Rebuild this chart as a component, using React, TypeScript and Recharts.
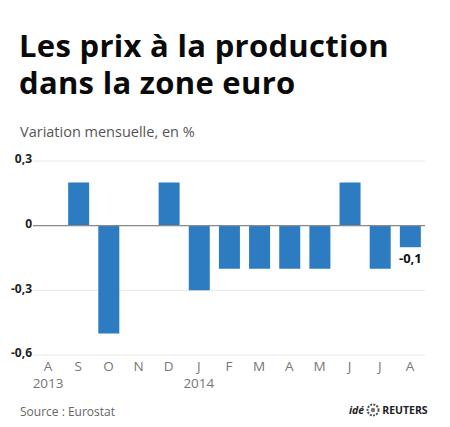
import React from "react";
import { BarChart, Bar, XAxis, YAxis, CartesianGrid, ReferenceLine, LabelList } from "recharts";

const months = ["A", "S", "O", "N", "D", "J", "F", "M", "A", "M", "J", "J", "A"];
const years = ["2013", "", "", "", "", "2014", "", "", "", "", "", "", ""];
const values = [0, 0.2, -0.5, 0, 0.2, -0.3, -0.2, -0.2, -0.2, -0.2, 0.2, -0.2, -0.1];
const labels = ["", "", "", "", "", "", "", "", "", "", "", "", "-0,1"];
const yTicks = [0.3, 0, -0.3, -0.6];

const data = months.map((m, i) => ({ id: i, mois: m, annee: years[i], valeur: values[i], etiquette: labels[i] }));

const fmt = (v: number) => String(v).replace(".", ",");

const MonthTick = (props: any) => {
  const { x, y, payload } = props;
  const row = data[payload.value];
  return (
    <g>
      <text x={x} y={y + 8} textAnchor="middle" fill="#777" fontSize={13.5} fontFamily="Open Sans">
        {row.mois}
      </text>
      {row.annee && (
        <text x={x} y={y + 25} textAnchor="middle" fill="#777" fontSize={13.5} fontFamily="Open Sans">
          {row.annee}
        </text>
      )}
    </g>
  );
};

const BottomLabel = (props: any) => {
  const { x, y, width, height, value } = props;
  if (!value) return null;
  const bottom = Math.max(Number(y), Number(y) + Number(height));
  return (
    <text x={Number(x) + Number(width) / 2} y={bottom + 16} textAnchor="middle" fill="#111" fontSize={13} fontWeight={700} fontFamily="Open Sans">
      {value}
    </text>
  );
};

const titleStyle: React.CSSProperties = {
  position: "absolute",
  left: 19,
  fontSize: 31,
  fontWeight: 700,
  lineHeight: "37px",
  height: 37,
  color: "#0a0a0a",
  letterSpacing: 0.3,
  whiteSpace: "nowrap",
};

export default function App() {
  return (
    <div style={{ position: "relative", width: 450, height: 427, margin: -8, background: "#fff", fontFamily: "Open Sans", overflow: "hidden" }}>
      <div style={{ ...titleStyle, top: 27 }}>Les prix à la production</div>
      <div style={{ ...titleStyle, top: 64 }}>dans la zone euro</div>
      <div style={{ position: "absolute", left: 20, top: 122, fontSize: 14.5, color: "#555" }}>Variation mensuelle, en %</div>
      <div style={{ position: "absolute", left: 0, top: 140 }}>
        <BarChart width={450} height={262} data={data} margin={{ top: 21, right: 25, bottom: 0, left: 0 }} barSize={21}>
          <CartesianGrid vertical={false} stroke="#e6e6e6" />
          <XAxis dataKey="id" axisLine={false} tickLine={false} height={47} tick={<MonthTick />} interval={0} />
          <YAxis
            domain={[-0.6, 0.3]}
            ticks={yTicks}
            width={33}
            axisLine={false}
            tickLine={false}
            tickFormatter={fmt}
            tick={{ fill: "#222", fontSize: 12, fontWeight: 700, fontFamily: "Open Sans", dy: -2, dx: 7 }}
          />
          <ReferenceLine y={0} stroke="#8a8a8a" strokeWidth={1.2} />
          <Bar dataKey="valeur" fill="#2d7bc1" isAnimationActive={false}>
            <LabelList dataKey="etiquette" content={<BottomLabel />} />
          </Bar>
        </BarChart>
      </div>
      <div style={{ position: "absolute", left: 20, top: 403, fontSize: 12, color: "#666" }}>Source : Eurostat</div>
      <div style={{ position: "absolute", left: 349, top: 403, display: "flex", alignItems: "center", gap: 2 }}>
        <span style={{ fontSize: 10.5, fontStyle: "italic", fontWeight: 700, color: "#222" }}>idé</span>
        <svg width={14} height={14} viewBox="0 0 14 14">
          <circle cx={7} cy={7} r={5.5} fill="none" stroke="#555" strokeWidth={2} strokeDasharray="2 1.2" />
          <circle cx={7} cy={7} r={2.2} fill="#777" />
        </svg>
        <span style={{ fontSize: 10.5, fontWeight: 700, color: "#222", letterSpacing: 0 }}>REUTERS</span>
      </div>
      <div style={{ position: "absolute", left: 0, top: 421, width: 450, height: 2, background: "#555" }} />
    </div>
  );
}
